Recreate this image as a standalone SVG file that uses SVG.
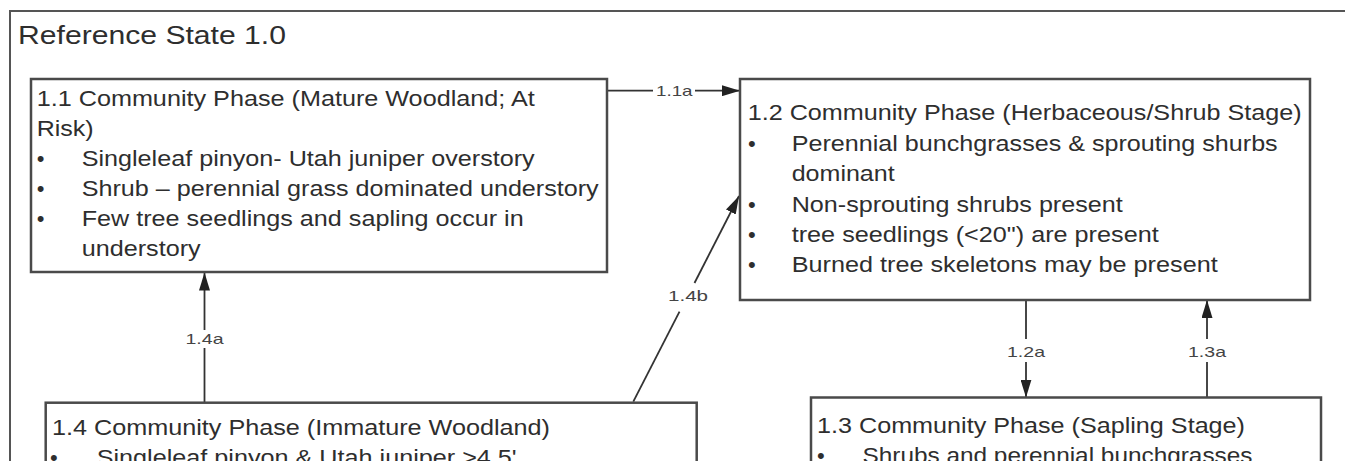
<svg xmlns="http://www.w3.org/2000/svg" width="1345" height="461" viewBox="0 0 1345 461">
<style>
.frame{fill:none;stroke:#555;stroke-width:2}
.box{fill:#fff;stroke:#4a4a4a;stroke-width:2.5}
.t{font-family:"Liberation Sans",Arial,sans-serif;font-size:22px;fill:#2e2e2e}
.title{font-family:"Liberation Sans",Arial,sans-serif;font-size:25.5px;fill:#2e2e2e}
.lbl{font-family:"Liberation Sans",Arial,sans-serif;font-size:15px;fill:#444}
.conn{fill:none;stroke:#333;stroke-width:1.8}
</style>
<defs>
<marker id="ah" markerUnits="userSpaceOnUse" markerWidth="18" markerHeight="11" refX="18" refY="5.5" orient="auto">
<path d="M0,0 L18,5.5 L0,11 z" fill="#222"/>
</marker>
</defs>
<rect x="0" y="0" width="1345" height="461" fill="#fff"/>
<g id="state-frame">
<path class="frame" d="M10,475 V11 H1350"/>
<text class="title" x="18" y="43.5" textLength="268" lengthAdjust="spacingAndGlyphs">Reference State 1.0</text>
</g>
<g id="connectors">
<path class="conn" d="M607,90.7 H653"/>
<path class="conn" d="M695,90.7 H740" marker-end="url(#ah)"/>
<text class="lbl" x="656" y="96" textLength="36.5" lengthAdjust="spacingAndGlyphs">1.1a</text>
<path class="conn" d="M204.5,402.7 V348"/>
<path class="conn" d="M204.5,330 V272.5" marker-end="url(#ah)"/>
<text class="lbl" x="185.5" y="344" textLength="38" lengthAdjust="spacingAndGlyphs">1.4a</text>
<path class="conn" d="M633.3,401.7 L679.5,311.7"/>
<path class="conn" d="M694.5,283 L739,196" marker-end="url(#ah)"/>
<text class="lbl" x="668" y="301" textLength="40" lengthAdjust="spacingAndGlyphs">1.4b</text>
<path class="conn" d="M1026,300 V339"/>
<path class="conn" d="M1026,362 V397.5" marker-end="url(#ah)"/>
<text class="lbl" x="1007" y="356.5" textLength="38" lengthAdjust="spacingAndGlyphs">1.2a</text>
<path class="conn" d="M1207,397.5 V362"/>
<path class="conn" d="M1207,339 V300" marker-end="url(#ah)"/>
<text class="lbl" x="1188" y="356.5" textLength="38" lengthAdjust="spacingAndGlyphs">1.3a</text>
</g>
<g id="phase-1-1">
<rect class="box" x="31" y="79" width="576" height="193"/>
<text class="t" x="36.7" y="106" textLength="498" lengthAdjust="spacingAndGlyphs">1.1 Community Phase (Mature Woodland; At</text>
<text class="t" x="36.7" y="136" textLength="57" lengthAdjust="spacingAndGlyphs">Risk)</text>
<text class="t" x="36.7" y="166">•</text>
<text class="t" x="81.7" y="166" textLength="453" lengthAdjust="spacingAndGlyphs">Singleleaf pinyon- Utah juniper overstory</text>
<text class="t" x="36.7" y="196">•</text>
<text class="t" x="81.7" y="196" textLength="517" lengthAdjust="spacingAndGlyphs">Shrub – perennial grass dominated understory</text>
<text class="t" x="36.7" y="226">•</text>
<text class="t" x="81.7" y="226" textLength="442" lengthAdjust="spacingAndGlyphs">Few tree seedlings and sapling occur in</text>
<text class="t" x="81.7" y="256" textLength="119" lengthAdjust="spacingAndGlyphs">understory</text>
</g>
<g id="phase-1-2">
<rect class="box" x="740" y="79" width="570" height="221"/>
<text class="t" x="747.7" y="120" textLength="554" lengthAdjust="spacingAndGlyphs">1.2 Community Phase (Herbaceous/Shrub Stage)</text>
<text class="t" x="748" y="150.5">•</text>
<text class="t" x="791.7" y="150.5" textLength="486" lengthAdjust="spacingAndGlyphs">Perennial bunchgrasses &amp; sprouting shurbs</text>
<text class="t" x="791.7" y="181" textLength="103" lengthAdjust="spacingAndGlyphs">dominant</text>
<text class="t" x="748" y="211.5">•</text>
<text class="t" x="791.7" y="211.5" textLength="331" lengthAdjust="spacingAndGlyphs">Non-sprouting shrubs present</text>
<text class="t" x="748" y="242">•</text>
<text class="t" x="791.7" y="242" textLength="367" lengthAdjust="spacingAndGlyphs">tree seedlings (&lt;20") are present</text>
<text class="t" x="748" y="272">•</text>
<text class="t" x="791.7" y="272" textLength="426" lengthAdjust="spacingAndGlyphs">Burned tree skeletons may be present</text>
</g>
<g id="phase-1-3">
<rect class="box" x="811" y="397.5" width="510" height="100"/>
<text class="t" x="817" y="433" textLength="428" lengthAdjust="spacingAndGlyphs">1.3 Community Phase (Sapling Stage)</text>
<text class="t" x="817" y="462.5">•</text>
<text class="t" x="862.5" y="462.5" textLength="390" lengthAdjust="spacingAndGlyphs">Shrubs and perennial bunchgrasses</text>
</g>
<g id="phase-1-4">
<rect class="box" x="45.7" y="402.7" width="651" height="100"/>
<text class="t" x="52" y="435" textLength="498" lengthAdjust="spacingAndGlyphs">1.4 Community Phase (Immature Woodland)</text>
<text class="t" x="50" y="465">•</text>
<text class="t" x="96.7" y="465" textLength="420" lengthAdjust="spacingAndGlyphs">Singleleaf pinyon &amp; Utah juniper &gt;4.5'</text>
</g>
</svg>
